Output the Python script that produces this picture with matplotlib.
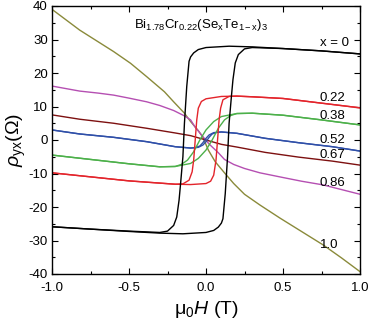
import numpy as np
import matplotlib.pyplot as plt
from matplotlib.ticker import MultipleLocator

plt.rcParams['font.family'] = ['Liberation Sans', 'DejaVu Sans']
plt.rcParams['mathtext.fontset'] = 'custom'
plt.rcParams['mathtext.rm'] = 'Liberation Sans'
plt.rcParams['mathtext.it'] = 'Liberation Sans:italic'
plt.rcParams['axes.unicode_minus'] = False

# x = 0 (black), sweep down and sweep up
h_x0_down = [1.0, 0.75, 0.5, 0.3, 0.15, 0.0, -0.05, -0.08, -0.10, -0.11, -0.125, -0.14,
             -0.15, -0.165, -0.175, -0.19, -0.21, -0.25, -0.3, -0.5, -0.75, -1.0]
r_x0_down = [25.7, 26.6, 27.3, 27.8, 28.0, 27.6, 27.0, 26.0, 24.8, 23.5, 16.0, 5.0,
             -5.0, -13.0, -18.0, -23.0, -25.5, -27.2, -27.6, -27.2, -26.6, -25.9]
h_x0_up = [-1.0, -0.75, -0.5, -0.3, -0.15, 0.0, 0.05, 0.08, 0.10, 0.11, 0.125, 0.14,
           0.15, 0.165, 0.175, 0.19, 0.21, 0.25, 0.3, 0.5, 0.75, 1.0]
r_x0_up = [-25.9, -26.6, -27.3, -27.8, -28.0, -27.6, -27.0, -26.0, -24.8, -23.5, -16.0, -5.0,
           5.0, 13.0, 18.0, 23.0, 25.5, 27.2, 27.6, 27.3, 26.6, 25.7]

# x = 0.22 (red)
h_x22_down = [1.0, 0.75, 0.5, 0.3, 0.2, 0.1, 0.0, -0.03, -0.05, -0.06, -0.07, -0.08,
              -0.09, -0.11, -0.15, -0.2, -0.5, -0.75, -1.0]
r_x22_down = [9.6, 11.0, 12.4, 12.9, 13.1, 13.0, 12.3, 11.5, 9.5, 6.0, 0.0, -6.0,
              -9.5, -12.0, -13.1, -13.2, -12.2, -11.0, -9.8]
h_x22_up = [-1.0, -0.75, -0.5, -0.2, -0.1, 0.0, 0.03, 0.05, 0.065, 0.075, 0.085,
            0.095, 0.11, 0.15, 0.2, 0.3, 0.5, 0.75, 1.0]
r_x22_up = [-9.8, -11.0, -12.2, -13.2, -13.3, -13.0, -12.3, -10.5, -6.0, 0.0, 6.0,
            9.5, 12.0, 13.0, 13.1, 12.9, 12.4, 11.0, 9.6]

# x = 0.38 (green)
h_x38_down = [1.0, 0.75, 0.5, 0.3, 0.2, 0.1, 0.05, 0.0, -0.04, -0.08, -0.12, -0.16,
              -0.2, -0.3, -0.5, -0.75, -1.0]
r_x38_down = [4.5, 6.0, 7.4, 8.0, 7.9, 7.0, 5.5, 3.0, 0.0, -3.5, -6.0, -7.3,
              -7.9, -8.0, -7.1, -5.8, -4.5]
h_x38_up = [-1.0, -0.75, -0.5, -0.3, -0.2, -0.1, -0.05, 0.0, 0.04, 0.08, 0.12, 0.16,
            0.2, 0.3, 0.5, 0.75, 1.0]
r_x38_up = [-4.5, -5.8, -7.1, -8.0, -7.9, -7.0, -5.5, -3.0, 0.0, 3.5, 6.0, 7.3,
            7.9, 8.0, 7.4, 6.0, 4.5]

# x = 0.52 (blue)
h_x52_down = [1.0, 0.82, 0.6, 0.385, 0.2, 0.1, 0.05, 0.02, 0.0, -0.02, -0.04, -0.07,
              -0.1, -0.2, -0.385, -0.6, -0.82, -1.0]
r_x52_down = [-3.3, -2.0, -0.8, 0.5, 2.0, 2.4, 2.2, 1.5, 0.5, -0.8, -1.8, -2.3,
              -2.4, -2.0, -0.5, 0.8, 1.8, 3.0]
h_x52_up = [-1.0, -0.82, -0.6, -0.385, -0.2, -0.1, -0.05, -0.02, 0.0, 0.02, 0.04, 0.07,
            0.1, 0.2, 0.385, 0.6, 0.82, 1.0]
r_x52_up = [3.0, 1.8, 0.8, -0.5, -2.0, -2.4, -2.2, -1.5, -0.5, 0.8, 1.8, 2.3,
            2.4, 2.0, 0.5, -0.8, -2.0, -3.3]

# x = 0.67 (dark red)
h_x67 = [-1.0, -0.82, -0.6, -0.385, -0.2, -0.1, 0.0, 0.1, 0.2, 0.385, 0.6, 0.82, 1.0]
r_x67 = [7.5, 6.2, 5.0, 3.5, 2.1, 1.3, 0.0, -1.3, -2.1, -3.7, -5.1, -6.3, -7.5]

# x = 0.86 (magenta)
h_x86 = [-1.0, -0.82, -0.7, -0.6, -0.5, -0.385, -0.3, -0.21, -0.14, -0.1, -0.07, -0.02,
         0.02, 0.08, 0.12, 0.18, 0.25, 0.35, 0.5, 0.62, 0.76, 0.88, 1.0]
r_x86 = [16.1, 14.6, 14.0, 13.4, 12.5, 11.4, 10.3, 8.8, 7.2, 6.0, 3.8, 1.0,
         -1.2, -3.8, -5.8, -7.3, -8.5, -9.8, -11.2, -12.3, -13.4, -14.8, -16.2]

# x = 1.0 (olive)
h_x100 = [-1.0, -0.91, -0.82, -0.71, -0.6, -0.49, -0.385, -0.27, -0.21, -0.14, -0.1,
          -0.05, -0.02, 0.015, 0.06, 0.12, 0.18, 0.25, 0.35, 0.48, 0.62, 0.76, 0.88, 1.0]
r_x100 = [39.0, 35.9, 32.8, 29.6, 26.4, 22.9, 18.9, 14.4, 11.4, 8.0, 5.5,
          2.8, 0.8, -3.0, -6.5, -9.8, -13.0, -16.2, -19.4, -23.3, -27.3, -31.3, -35.2, -39.3]

labels = ['x = 0', '0.22', '0.38', '0.52', '0.67', '0.86', '1.0']
label_y = [28.9, 12.4, 7.2, 0.0, -4.5, -12.9, -31.3]

c_black = 'black'
c_red = '#e3242b'
c_green = '#4cb04a'
c_blue = '#2f4fa8'
c_maroon = '#7d1010'
c_magenta = '#b54fb2'
c_olive = '#8a8a3a'

fig = plt.figure(figsize=(3.76, 3.30), dpi=100)
ax = fig.add_axes([52 / 376, 56 / 330, 308 / 376, 268 / 330])

lw = 1.0
ax.plot(h_x100, r_x100, color=c_olive, lw=lw)
ax.plot(h_x86, r_x86, color=c_magenta, lw=lw)
ax.plot(h_x67, r_x67, color=c_maroon, lw=lw)
ax.plot(h_x52_down, r_x52_down, color=c_blue, lw=lw)
ax.plot(h_x52_up, r_x52_up, color=c_blue, lw=lw)
ax.plot(h_x38_down, r_x38_down, color=c_green, lw=lw)
ax.plot(h_x38_up, r_x38_up, color=c_green, lw=lw)
ax.plot(h_x22_down, r_x22_down, color=c_red, lw=lw)
ax.plot(h_x22_up, r_x22_up, color=c_red, lw=lw)
ax.plot(h_x0_down, r_x0_down, color=c_black, lw=lw)
ax.plot(h_x0_up, r_x0_up, color=c_black, lw=lw)

for lab, yv in zip(labels, label_y):
    ax.text(0.74, yv, lab, fontsize=9.5, ha='left', va='center')

ax.text(-0.47, 34.3, r'Bi$_{\rm 1.78}$Cr$_{\rm 0.22}$(Se$_{\rm x}$Te$_{\rm 1-x}$)$_{\rm 3}$',
        fontsize=9.5, ha='left', va='center')

ax.set_xlim(-1.0, 1.0)
ax.set_ylim(-40, 40)
ax.xaxis.set_major_locator(MultipleLocator(0.5))
ax.xaxis.set_minor_locator(MultipleLocator(0.25))
ax.yaxis.set_major_locator(MultipleLocator(10))
ax.yaxis.set_minor_locator(MultipleLocator(5))
ax.set_xticks([-1.0, -0.5, 0.0, 0.5, 1.0])
ax.set_xticklabels(['-1.0', '-0.5', '0.0', '0.5', '1.0'])
ax.tick_params(which='both', direction='in', top=True, right=True, labelsize=9.5, width=0.8)
ax.tick_params(which='major', length=4)
ax.tick_params(axis='x', which='major', pad=6)
ax.tick_params(axis='y', which='major', pad=3)
ax.tick_params(which='minor', length=2.5)
for s in ax.spines.values():
    s.set_linewidth(1.0)

ax.set_xlabel(r'$\mathregular{\mu_0}$$H$ (T)', fontsize=14, labelpad=3)
ax.set_ylabel(r'$\rho_{\rm yx}$($\Omega$)', fontsize=14, labelpad=0)

fig.savefig('out.png', dpi=100)
